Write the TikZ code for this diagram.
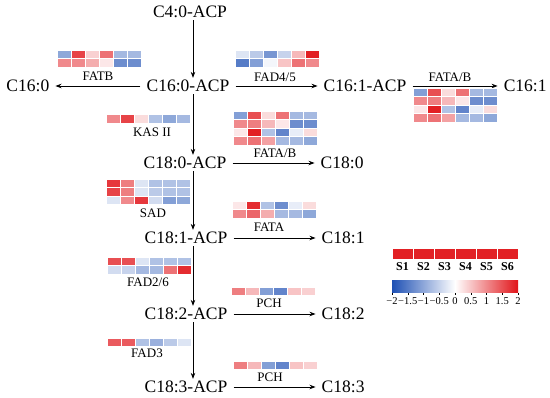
\documentclass[tikz,border=0pt]{standalone}
\usepackage{fontspec}
\setmainfont{Liberation Serif}
\usetikzlibrary{arrows.meta, positioning}

\definecolor{hmblue}{RGB}{30,80,180}
\definecolor{hmred}{RGB}{225,20,25}

% one heatmap cell: corner, value in [-2,2]
\newcommand{\hmcell}[2]{%
  \pgfmathsetmacro{\hmv}{#2}%
  \ifdim\hmv pt<0pt
    \pgfmathsetmacro{\hmp}{-50*\hmv}%
    \colorlet{hmfill}{hmblue!\hmp!white}%
  \else
    \pgfmathsetmacro{\hmp}{50*\hmv}%
    \colorlet{hmfill}{hmred!\hmp!white}%
  \fi
  \filldraw[cellbox, fill=hmfill] (#1) rectangle ++(14,8.5);%
}
% heatmap: x, y of top left corner, rows
\newcommand{\heatmap}[3]{%
  \foreach \hmrow [count=\hmr] in {#3} {
    \foreach \hmval [count=\hmc] in \hmrow {
      \hmcell{{#1+(\hmc-1)*14},{#2+(\hmr-1)*8.5}}{\hmval}
    }
  }%
}

\begin{document}
\begin{tikzpicture}[
    x=1pt, y=-1pt,
    node distance=82pt,
    acid/.style={inner xsep=6pt, inner ysep=2pt, font=\fontsize{17.5}{20}\selectfont},
    enzyme/.style={inner sep=0pt, font=\fontsize{13}{15}\selectfont},
    legendlab/.style={inner sep=0pt, font=\fontsize{10.5}{12}\selectfont},
    flow/.style={-{Stealth[length=6pt,width=4.5pt]}, line width=0.8pt},
    cellbox/.style={draw=white, line width=0.4pt}
]
    \useasboundingbox (0,0) rectangle (550,398);

    % Intermediates
    \node[acid] (c4acp) at (190,12) {C4:0-ACP};
    \node[acid] (c160acp) at (188,86) {C16:0-ACP};
    \node[acid] (c180acp) at (185,163) {C18:0-ACP};
    \node[acid] (c181acp) at (186,238) {C18:1-ACP};
    \node[acid] (c182acp) at (186,314) {C18:2-ACP};
    \node[acid] (c183acp) at (186,387) {C18:3-ACP};

    % Products
    \node[acid, left=85pt of c160acp] (c160) {C16:0};
    \node[acid, right=of c160acp] (c161acp) {C16:1-ACP};
    \node[acid, right=85pt of c161acp] (c161) {C16:1};
    \node[acid, right=of c180acp] (c180) {C18:0};
    \node[acid, right=of c181acp] (c181) {C18:1};
    \node[acid, right=of c182acp] (c182) {C18:2};
    \node[acid, right=of c183acp] (c183) {C18:3};

    % Links
    \draw[flow] ([xshift=3pt]c4acp.south) -- ([xshift=5pt]c160acp.north);
    \draw[flow] ([xshift=5pt]c160acp.south) -- ([xshift=8pt]c180acp.north);
    \draw[flow] ([xshift=8pt]c180acp.south) -- ([xshift=7pt]c181acp.north);
    \draw[flow] ([xshift=7pt]c181acp.south) -- ([xshift=7pt]c182acp.north);
    \draw[flow] ([xshift=7pt]c182acp.south) -- ([xshift=7pt]c183acp.north);
    \draw[flow] (c160acp) -- (c160);
    \draw[flow] (c160acp) -- (c161acp);
    \draw[flow] (c161acp) -- (c161);
    \draw[flow] (c180acp) -- (c180);
    \draw[flow] (c181acp) -- (c181);
    \draw[flow] (c182acp) -- (c182);
    \draw[flow] (c183acp) -- (c183);

    % Enzymes
    \node[enzyme] (fatb) at (98,76) {FATB};
    \node[enzyme] (fad45) at (275,77) {FAD4/5};
    \node[enzyme] (fatab1) at (450,77) {FATA/B};
    \node[enzyme] (kas2) at (152,132) {KAS II};
    \node[enzyme] (fatab2) at (275,153) {FATA/B};
    \node[enzyme] (sad) at (153,213) {SAD};
    \node[enzyme] (fata) at (269,227) {FATA};
    \node[enzyme] (fad26) at (148,282) {FAD2/6};
    \node[enzyme] (pch1) at (269,303) {PCH};
    \node[enzyme] (fad3) at (147,353) {FAD3};
    \node[enzyme] (pch2) at (270,377) {PCH};

    % Heatmaps
    \heatmap{57}{50}{{-1,1.6,0.4,1.2,-0.8,-0.8},{1,1,0.7,0.2,-1.3,-1.3}}
    \heatmap{235}{50}{{-0.3,-0.6,-1.2,-0.5,0.6,1.9},{-1.5,-1.1,-0.1,0.5,1.2,1}}
    \heatmap{413}{88}{{-1.1,1.5,0.3,1.2,-0.8,-0.8},{1,1.1,0.6,0.2,-1.3,-1.3},{0.2,1.9,-0.7,-1.4,-0.2,0.3},{1,1.2,0.8,-0.8,-0.8,-1}}
    \heatmap{106}{114.5}{{1,1.6,0.3,-0.7,-1,-0.8}}
    \heatmap{233}{111}{{-1.1,1.5,0.3,1.2,-0.8,-0.8},{1,1.1,0.6,0.2,-1.3,-1.3},{0.2,1.9,-0.7,-1.4,-0.2,0.3},{1,1.2,0.8,-0.8,-0.8,-1}}
    \heatmap{106}{179}{{1.7,1.1,-0.3,-0.7,-0.7,-0.7},{1.6,1.1,-0.3,-0.6,-0.7,-0.7},{-0.3,1,1.7,-0.4,-1.1,-1}}
    \heatmap{232}{201}{{0.2,1.8,-0.7,-1.3,-0.2,0.3},{1,1.3,0.7,-0.8,-0.8,-1}}
    \heatmap{107}{257}{{1.5,1.5,-0.3,-0.7,-0.7,-0.7},{-0.4,-0.5,-0.8,-0.8,1.2,1.8}}
    \heatmap{231}{287}{{1.1,0.6,-1.1,-1.4,0.5,0.4}}
    \heatmap{107}{338}{{1.4,1.4,-0.7,-0.9,-0.6,-0.3}}
    \heatmap{233}{361}{{1.1,0.6,-1.1,-1.4,0.5,0.4}}

    % Legend
    \foreach \s in {1,...,6} {
      \filldraw[cellbox, fill=hmred!95!white] ({392+(\s-1)*21},248) rectangle ++(21,11);
      \node[legendlab, font=\fontsize{12}{14}\selectfont\bfseries] (s\s) at ({402.5+(\s-1)*21},267) {S\s};
    }
    \shade[left color=hmblue, right color=hmred, middle color=white] (392,281) rectangle (518,293);
    \foreach \v/\t in {-2/−2, -1.5/−1.5, -1/−1, -0.5/−0.5, 0/0, 0.5/0.5, 1/1, 1.5/1.5, 2/2} {
      \draw[line width=0.4pt] ({455+\v*31.5},293) -- ++(0,2);
      \node[legendlab] (tick\t) at ({455+\v*31.5},301.5) {\t};
    }
\end{tikzpicture}
\end{document}
